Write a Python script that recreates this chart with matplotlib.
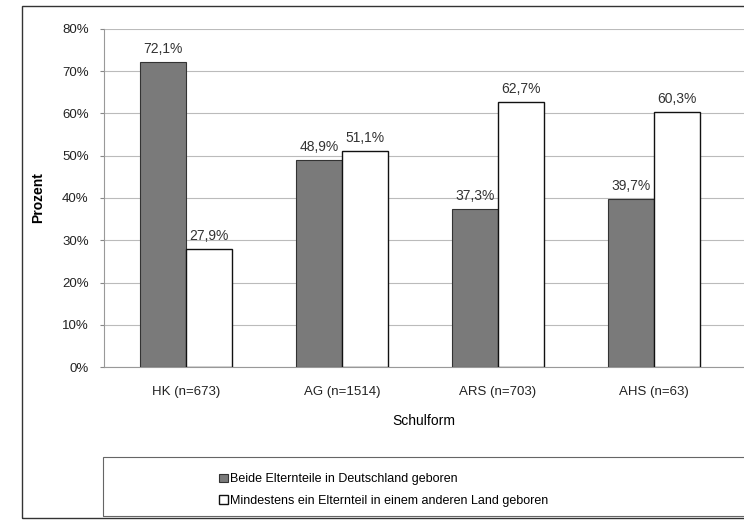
import matplotlib.pyplot as plt
from matplotlib.patches import Rectangle
import numpy as np

categories = ["HK (n=673)", "AG (n=1514)", "ARS (n=703)", "AHS (n=63)"]
beide_de = [72.1, 48.9, 37.3, 39.7]
min_ein_ausland = [27.9, 51.1, 62.7, 60.3]
labels_de = ["72,1%", "48,9%", "37,3%", "39,7%"]
labels_aus = ["27,9%", "51,1%", "62,7%", "60,3%"]
series_names = ["Beide Elternteile in Deutschland geboren",
                "Mindestens ein Elternteil in einem anderen Land geboren"]
yticks = [0, 10, 20, 30, 40, 50, 60, 70, 80]

plt.rcParams['font.family'] = ['Liberation Sans', 'DejaVu Sans']

fig = plt.figure(figsize=(7.44, 5.21), dpi=100)
ax = fig.add_axes([104 / 744, 1 - 367 / 521, 1 - 104 / 744, (367 - 29) / 521])

x = np.arange(len(categories))
w = 0.295
ax.bar(x - w / 2, beide_de, w, color="#7a7a7a", edgecolor="#333333", linewidth=0.8,
       label=series_names[0], zorder=3)
ax.bar(x + w / 2, min_ein_ausland, w, color="white", edgecolor="#111111", linewidth=1.0,
       label=series_names[1], zorder=3)

for xi, v, t in zip(x - w / 2, beide_de, labels_de):
    ax.text(xi, v + 1.5, t, ha="center", va="bottom", fontsize=10, color="#333333")
for xi, v, t in zip(x + w / 2, min_ein_ausland, labels_aus):
    ax.text(xi, v + 1.5, t, ha="center", va="bottom", fontsize=10, color="#333333")

ax.set_xlim(-0.527, 3.58)
ax.set_ylim(0, 80)
ax.set_yticks(yticks)
ax.set_yticklabels([f"{t}%" for t in yticks], fontsize=9.5, color="#222222")
ax.set_xticks(x)
ax.set_xticklabels(categories, fontsize=9.5, color="#222222")
ax.tick_params(axis="x", length=0, pad=14)
ax.tick_params(axis="y", length=3, color="#888888", pad=8)
ax.grid(axis="y", color="#bbbbbb", linewidth=0.8, zorder=0)
for s in ["top", "right"]:
    ax.spines[s].set_visible(False)
ax.spines["left"].set_color("#999999")
ax.spines["bottom"].set_color("#999999")
ax.set_ylabel("Prozent", fontsize=10, fontweight="bold", labelpad=12)
ax.set_xlabel("Schulform", fontsize=10, labelpad=11)

# outer frame
fig.patches.append(Rectangle((22 / 744, 1 - 518 / 521), 1, 512 / 521,
                             transform=fig.transFigure, fill=False,
                             edgecolor="#333333", linewidth=1.0))
# legend area frame
fig.patches.append(Rectangle((103 / 744, 1 - 516 / 521), 1, 59 / 521,
                             transform=fig.transFigure, fill=False,
                             edgecolor="#666666", linewidth=0.8))

leg = fig.legend(loc="center left", bbox_to_anchor=(214 / 744, 1 - 490 / 521),
                 fontsize=9, frameon=False, handlelength=0.7, handleheight=0.7,
                 handletextpad=0.2, labelspacing=0.75, borderaxespad=0)

fig.savefig("out.png", dpi=100)
